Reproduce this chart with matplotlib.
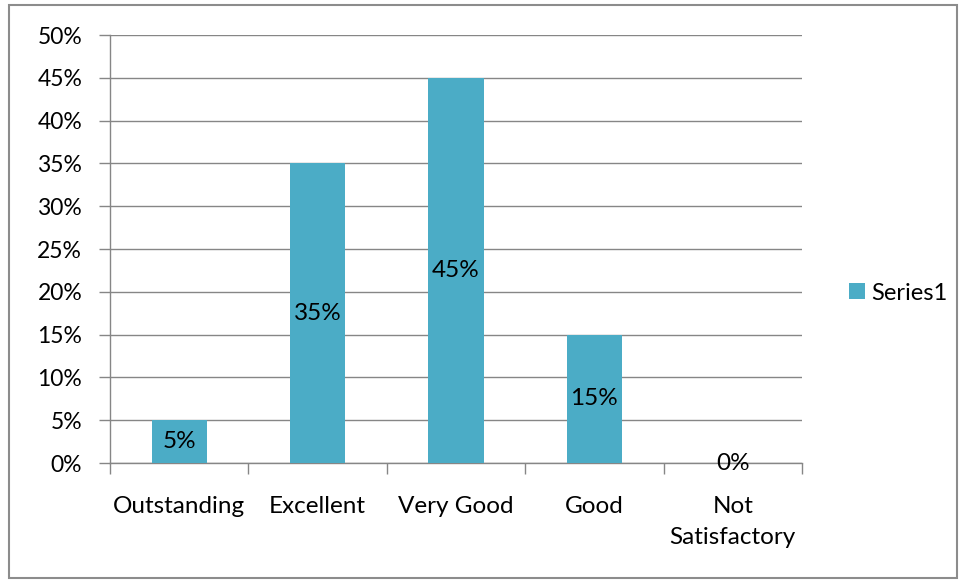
import numpy as np
import matplotlib.pyplot as plt
from matplotlib.patches import Rectangle
from matplotlib.ticker import FuncFormatter

# ======== data ========
categories = ["Outstanding", "Excellent", "Very Good", "Good", "Not\nSatisfactory"]
values = [0.05, 0.35, 0.45, 0.15, 0.0]
labels = ["5%", "35%", "45%", "15%", "0%"]
yticks = np.arange(0, 0.501, 0.05)

bar_color = "#4BACC6"
grid_color = "#868686"

plt.rcParams['font.family'] = ['Lato', 'DejaVu Sans']

W, H = 959, 580
fig = plt.figure(figsize=(W / 100, H / 100), dpi=100)
ax = fig.add_axes([110 / W, 1 - 463 / H, (802 - 110) / W, (463 - 35) / H])

x = np.arange(len(categories))
ax.bar(x, values, width=0.4, color=bar_color, zorder=3, label="Series1")

for xi, v, lab in zip(x, values, labels):
    ax.text(xi, v / 2, lab, ha='center', va='center', fontsize=17.5, color='black', zorder=4)

ax.set_xlim(-0.5, len(categories) - 0.5)
ax.set_ylim(0, 0.5)
ax.set_yticks(yticks)
ax.yaxis.set_major_formatter(FuncFormatter(lambda v, p: f"{v * 100:.0f}%"))
ax.tick_params(axis='y', labelsize=16.5, length=8, width=1, color=grid_color, pad=12)

# category labels, ticks at boundaries
ax.set_xticks(np.arange(-0.5, len(categories), 1.0))
ax.set_xticklabels([])
ax.tick_params(axis='x', length=8, width=1, color=grid_color)
ax.set_xticks(x, minor=True)
ax.set_xticklabels(categories, minor=True, fontsize=17.5, linespacing=1.55, va='top')
ax.tick_params(axis='x', which='minor', length=0, pad=24)

ax.grid(axis='y', color=grid_color, linewidth=1, zorder=0)
for side in ['top', 'right']:
    ax.spines[side].set_visible(False)
for side in ['left', 'bottom']:
    ax.spines[side].set_color(grid_color)
    ax.spines[side].set_linewidth(1)

fig.legend(loc='center left', bbox_to_anchor=(828 / W, 1 - 293 / H), frameon=False,
           fontsize=17, handlelength=0.65, handleheight=0.65, handletextpad=0.3)

# outer chart border
fig.patches.append(Rectangle((9 / W, 2 / H), (957 - 9) / W, (575 - 2) / H,
                             transform=fig.transFigure, fill=False,
                             edgecolor="#8c8c8c", linewidth=1.5))

plt.savefig("out.png", dpi=100)
